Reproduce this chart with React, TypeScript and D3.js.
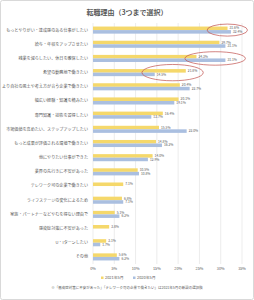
import { useEffect } from "react";
import * as d3 from "d3";

const width = 254;
const height = 300;

const categories = [
    "もっとやりがい・達成感のある仕事がしたい",
    "給与・年収をアップさせたい",
    "残業を減らしたい、休日を確保したい",
    "希望の勤務地で働きたい",
    "より自社の風土や考え方が合う企業で働きたい",
    "幅広い経験・知識を積みたい",
    "専門知識・技術を習得したい",
    "市場価値を高めたい、ステップアップしたい",
    "もっと成果が評価される環境で働きたい",
    "他にやりたい仕事ができた",
    "業界の先行きに不安があった",
    "テレワーク可の企業で働きたい",
    "ライフステージの変化によるため",
    "家族・パートナーなどやむを得ない理由で",
    "感染症対策に不安があった",
    "U・Iターンしたい",
    "その他",
];

// null = 選択肢なし
const values2021 = [31.6, 29.7, 24.3, 21.8, 20.4, 20.1, 16.4, 15.5, 14.8, 14.0, 10.5, 7.1, 6.8, 5.1, 3.8, 3.1, 5.6];
const values2020 = [32.4, 31.1, 31.1, 14.5, 22.7, 19.1, 13.7, 22.0, 16.2, 12.9, 10.8, null, 7.1, 6.2, null, 1.7, 6.2];

const seriesNames = ["2021年5月", "2020年5月"];
const colors = ["#f5d86b", "#aabfe0"];
const xTicks = [0, 5, 10, 15, 20, 25, 30, 35];

// 赤丸で囲んだ行 (from/to は%の位置)
const highlights = [
    { cat: 0, from: 26.8, to: 36.3, grow: 0.85 },
    { cat: 2, from: 21.6, to: 35.8, grow: 0.95 },
    { cat: 3, from: 11.5, to: 25.9, grow: 1.15 },
];

const footnote = "※「感染症対策に不安があった」「テレワーク可の企業で働きたい」は2021年5月の新設の選択肢";

const font = "'Noto Sans CJK JP', 'Noto Sans', sans-serif";
const textColor = "#595959";

function App() {
    useEffect(() => {
        document.body.style.margin = "0";
    }, []);

    const margin = { top: 23, right: 12, bottom: 36, left: 93 };

    const xScale = d3.scaleLinear().domain([0, 35]).range([margin.left, width - margin.right]);
    const yScale = d3
        .scaleBand()
        .domain(categories.map((c, i) => String(i)))
        .range([margin.top, height - margin.bottom])
        .paddingInner(0.5)
        .paddingOuter(0.25);
    const inner = d3
        .scaleBand()
        .domain(["0", "1"])
        .range([0, yScale.bandwidth()]);

    const series = [values2021, values2020];
    const fmt = (v) => v.toFixed(1) + "%";

    return (
        <svg width={width} height={height} style={{ display: "block" }} fontFamily={font}>
            <rect x={0.5} y={0.5} width={width - 1} height={height - 1} rx={2} fill="#fff" stroke="#d9d9d9" />
            <text x={width / 2} y={15} textAnchor="middle" fontSize={7} fontWeight="bold" fill={textColor}>
                転職理由（3つまで選択）
            </text>

            {/* grid */}
            {xTicks.map((t) => (
                <g key={t}>
                    <line
                        x1={xScale(t)}
                        x2={xScale(t)}
                        y1={margin.top}
                        y2={height - margin.bottom}
                        stroke="#d9d9d9"
                        strokeWidth={0.5}
                    />
                    <text x={xScale(t)} y={height - margin.bottom + 6} textAnchor="middle" fontSize={3.8} fill={textColor}>
                        {t}%
                    </text>
                </g>
            ))}

            {/* categories */}
            {categories.map((c, i) => (
                <text
                    key={c}
                    x={margin.left - 5}
                    y={yScale(String(i)) + yScale.bandwidth() / 2}
                    dy="0.35em"
                    textAnchor="end"
                    fontSize={4.1}
                    fill={textColor}
                >
                    {c}
                </text>
            ))}

            {/* bars */}
            {series.map((vals, s) => (
                <g key={s}>
                    {vals.map((v, i) =>
                        v == null ? null : (
                            <g key={i}>
                                <rect
                                    x={xScale(0)}
                                    y={yScale(String(i)) + inner(String(s))}
                                    width={xScale(v) - xScale(0)}
                                    height={inner.bandwidth()}
                                    fill={colors[s]}
                                />
                                <text
                                    x={xScale(v) + 2}
                                    y={yScale(String(i)) + inner(String(s)) + inner.bandwidth() / 2}
                                    dy="0.35em"
                                    fontSize={3.3}
                                    fill={textColor}
                                >
                                    {fmt(v)}
                                </text>
                            </g>
                        )
                    )}
                </g>
            ))}

            {/* highlights */}
            {highlights.map((h) => {
                const cy = yScale(String(h.cat)) + yScale.bandwidth() / 2;
                const x0 = xScale(h.from);
                const x1 = xScale(h.to);
                return (
                    <ellipse
                        key={h.cat}
                        cx={(x0 + x1) / 2}
                        cy={cy}
                        rx={(x1 - x0) / 2}
                        ry={yScale.bandwidth() * h.grow}
                        fill="none"
                        stroke="#c0504d"
                        strokeWidth={0.7}
                    />
                );
            })}

            {/* legend */}
            <g transform={`translate(${width / 2 - 26}, ${height - 22})`}>
                {seriesNames.map((n, s) => (
                    <g key={n} transform={`translate(${s * 32}, 0)`}>
                        <rect x={0} y={-1.5} width={2.5} height={2.5} fill={colors[s]} />
                        <text x={4} y={0} dy="0.35em" fontSize={3.9} fill={textColor}>
                            {n}
                        </text>
                    </g>
                ))}
            </g>

            <text x={width / 2} y={height - 11} textAnchor="middle" fontSize={3.5} fill={textColor}>
                {footnote}
            </text>
        </svg>
    );
}

export default App;
